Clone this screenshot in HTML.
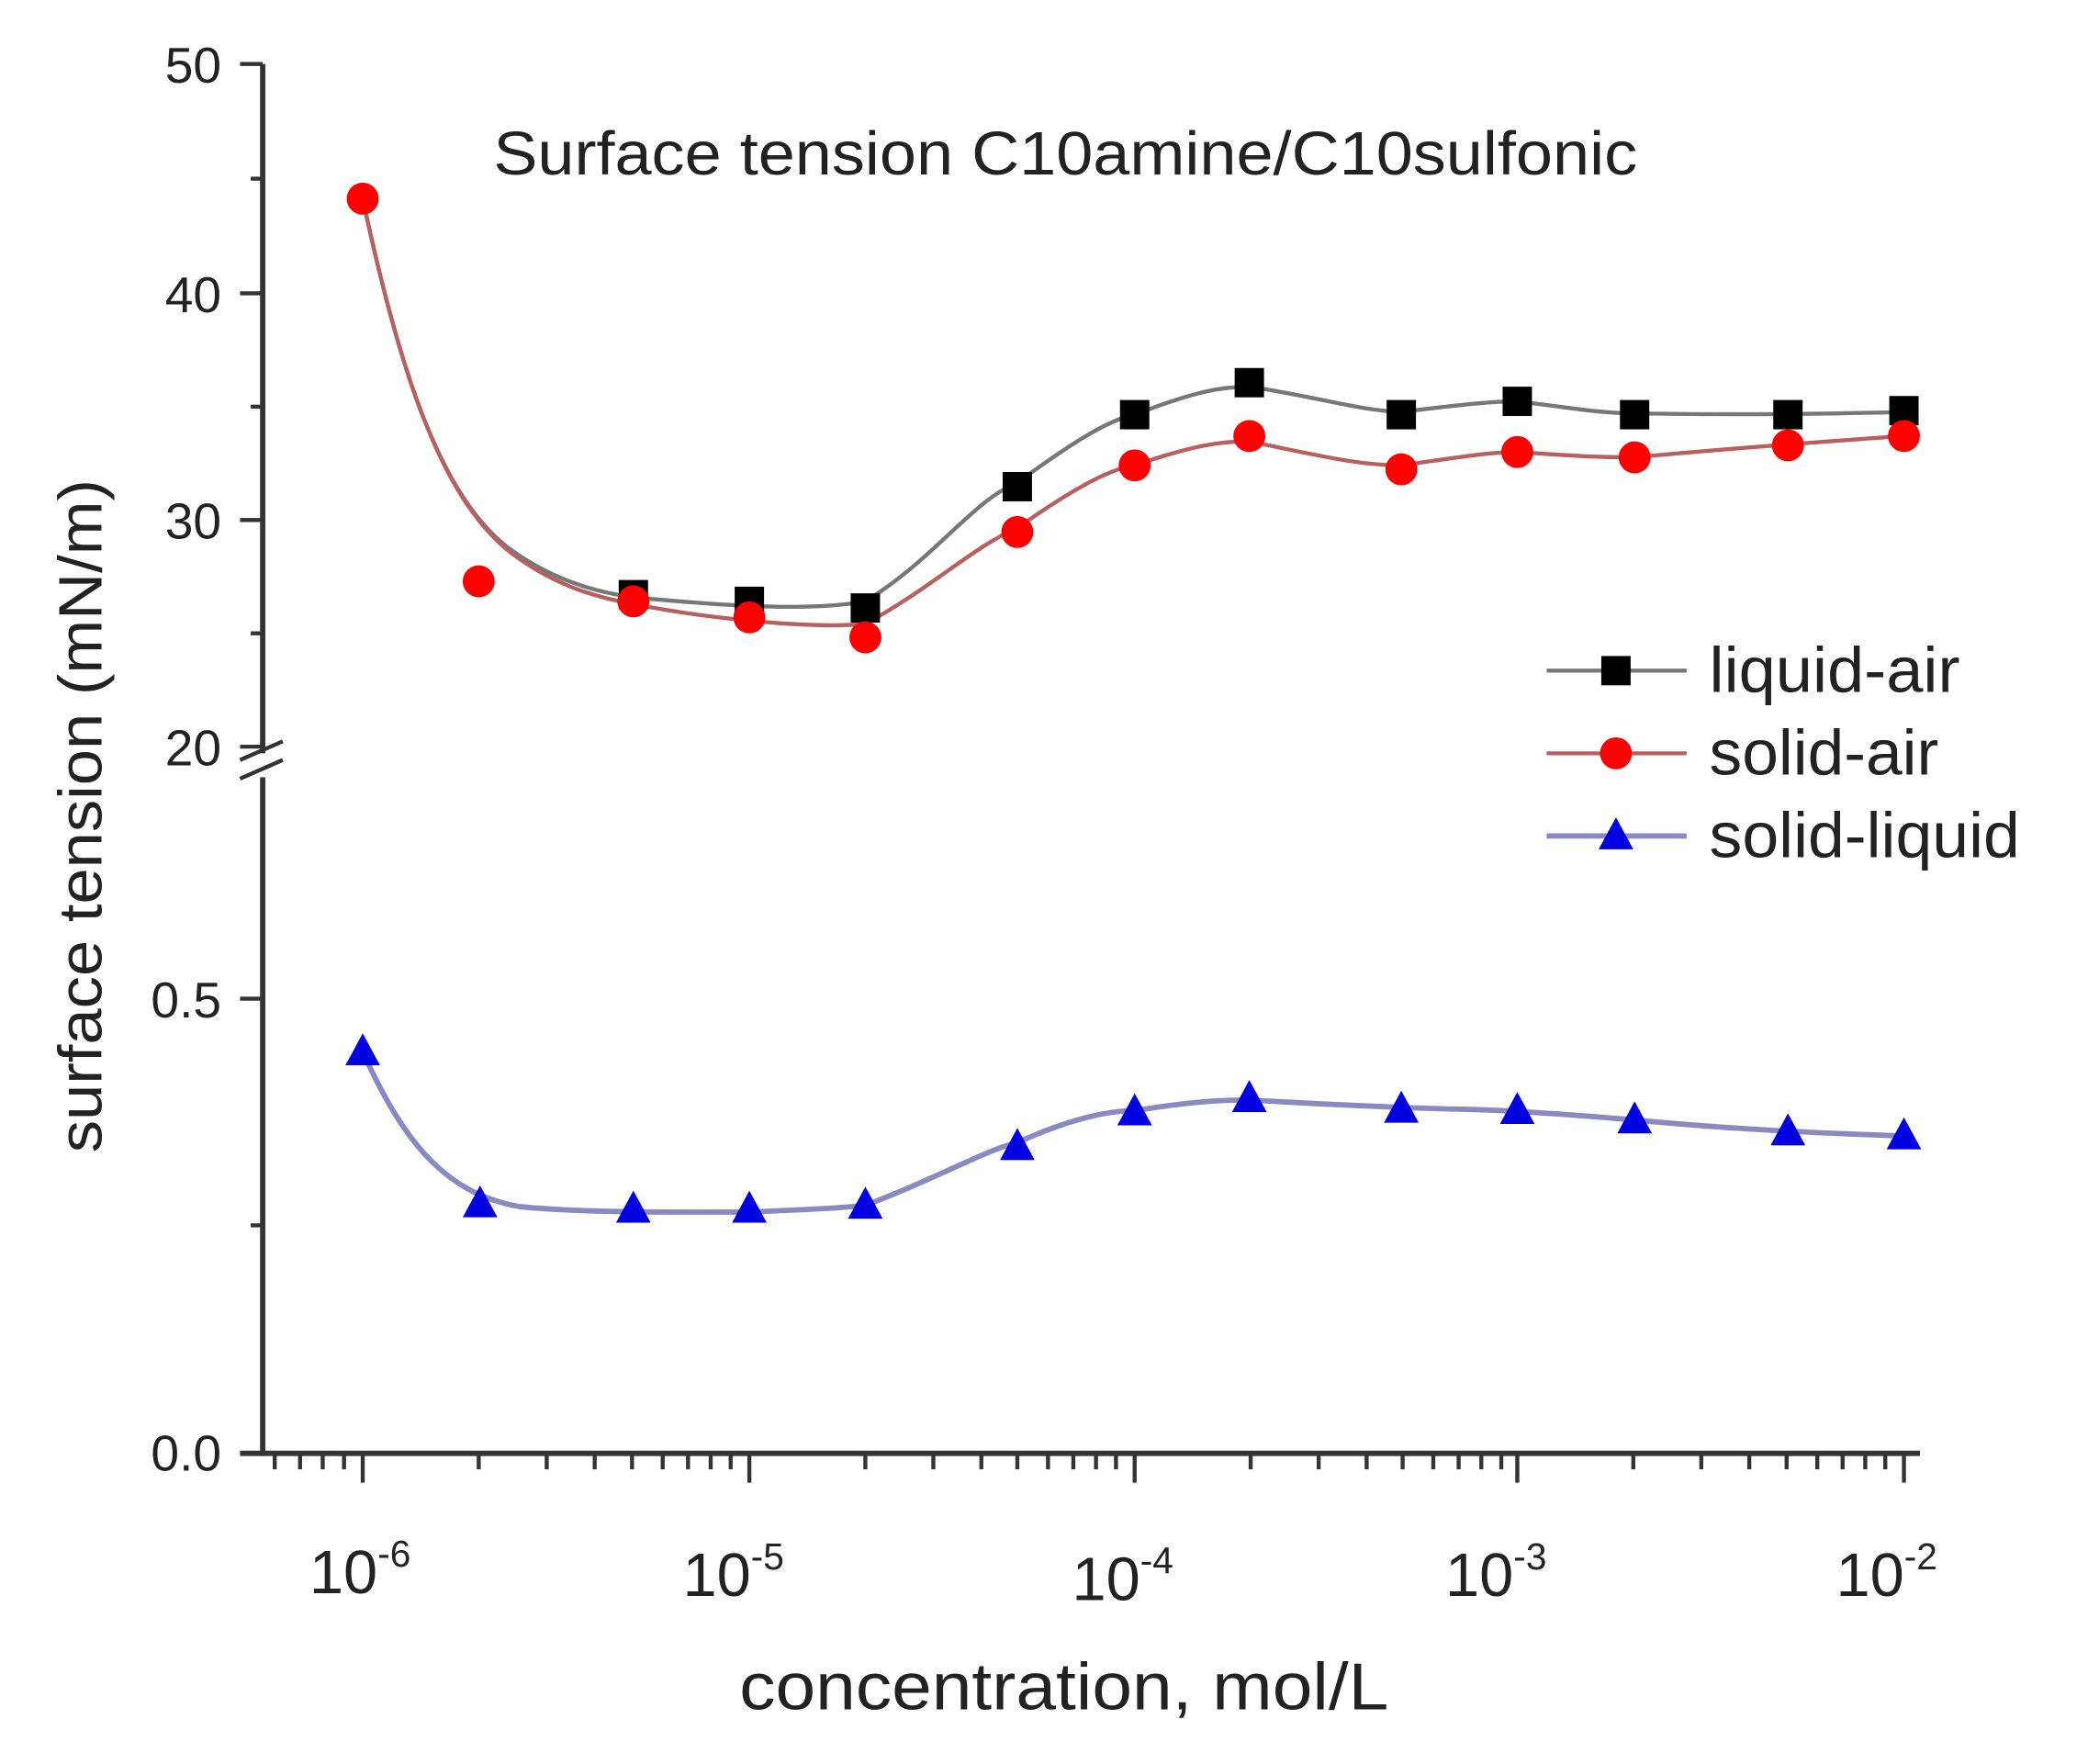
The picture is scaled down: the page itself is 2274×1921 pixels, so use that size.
<!DOCTYPE html>
<html><head><meta charset="utf-8"><style>
html,body{margin:0;padding:0;background:#fff}
svg{display:block}
text{font-family:"Liberation Sans",sans-serif;fill:#222}
</style></head><body>
<svg width="2274" height="1921" viewBox="0 0 1566 1323" xmlns="http://www.w3.org/2000/svg">
<rect width="1566" height="1323" fill="#fff"/>
<g stroke="#333" stroke-width="4" fill="none">
<line x1="197" y1="48" x2="197" y2="565"/>
<line x1="197" y1="583" x2="197" y2="1092"/>
<line x1="180" y1="1090" x2="1440" y2="1090"/>
</g>
<g stroke="#333" stroke-width="3">
<line x1="180" y1="48" x2="197" y2="48"/><line x1="180" y1="220" x2="197" y2="220"/>
<line x1="180" y1="390" x2="197" y2="390"/><line x1="180" y1="560" x2="197" y2="560"/>
<line x1="188" y1="134" x2="197" y2="134"/><line x1="188" y1="305" x2="197" y2="305"/>
<line x1="188" y1="475" x2="197" y2="475"/>
<line x1="180" y1="749" x2="197" y2="749"/><line x1="188" y1="919" x2="197" y2="919"/>
<line x1="180" y1="1090" x2="197" y2="1090"/>
<line x1="180" y1="570" x2="212" y2="556"/><line x1="180" y1="584" x2="212" y2="570"/>
</g>
<g stroke="#333" stroke-width="3">
<line x1="272" y1="1090" x2="272" y2="1112"/><line x1="562" y1="1090" x2="562" y2="1112"/>
<line x1="851" y1="1090" x2="851" y2="1112"/><line x1="1138" y1="1090" x2="1138" y2="1112"/>
<line x1="1428" y1="1090" x2="1428" y2="1112"/>
<line x1="206" y1="1090" x2="206" y2="1102"/><line x1="225" y1="1090" x2="225" y2="1102"/>
<line x1="242" y1="1090" x2="242" y2="1102"/><line x1="258" y1="1090" x2="258" y2="1102"/>
<line x1="359" y1="1090" x2="359" y2="1102"/><line x1="410" y1="1090" x2="410" y2="1102"/>
<line x1="446" y1="1090" x2="446" y2="1102"/><line x1="474" y1="1090" x2="474" y2="1102"/>
<line x1="497" y1="1090" x2="497" y2="1102"/><line x1="516" y1="1090" x2="516" y2="1102"/>
<line x1="533" y1="1090" x2="533" y2="1102"/><line x1="548" y1="1090" x2="548" y2="1102"/>
<line x1="649" y1="1090" x2="649" y2="1102"/><line x1="700" y1="1090" x2="700" y2="1102"/>
<line x1="736" y1="1090" x2="736" y2="1102"/><line x1="763" y1="1090" x2="763" y2="1102"/>
<line x1="786" y1="1090" x2="786" y2="1102"/><line x1="805" y1="1090" x2="805" y2="1102"/>
<line x1="822" y1="1090" x2="822" y2="1102"/><line x1="837" y1="1090" x2="837" y2="1102"/>
<line x1="938" y1="1090" x2="938" y2="1102"/><line x1="989" y1="1090" x2="989" y2="1102"/>
<line x1="1025" y1="1090" x2="1025" y2="1102"/><line x1="1052" y1="1090" x2="1052" y2="1102"/>
<line x1="1075" y1="1090" x2="1075" y2="1102"/><line x1="1094" y1="1090" x2="1094" y2="1102"/>
<line x1="1111" y1="1090" x2="1111" y2="1102"/><line x1="1126" y1="1090" x2="1126" y2="1102"/>
<line x1="1225" y1="1090" x2="1225" y2="1102"/><line x1="1276" y1="1090" x2="1276" y2="1102"/>
<line x1="1312" y1="1090" x2="1312" y2="1102"/><line x1="1340" y1="1090" x2="1340" y2="1102"/>
<line x1="1363" y1="1090" x2="1363" y2="1102"/><line x1="1382" y1="1090" x2="1382" y2="1102"/>
<line x1="1399" y1="1090" x2="1399" y2="1102"/><line x1="1414" y1="1090" x2="1414" y2="1102"/>
</g>
<g font-size="38" text-anchor="end" fill="#333">
<text x="166" y="62">50</text><text x="166" y="234">40</text><text x="166" y="404">30</text>
<text x="166" y="574">20</text><text x="166" y="763">0.5</text><text x="166" y="1103">0.0</text>
</g>
<g font-size="46" text-anchor="middle">
<text x="270" y="1195">10<tspan font-size="28" dy="-20">-6</tspan></text>
<text x="550" y="1197">10<tspan font-size="28" dy="-20">-5</tspan></text>
<text x="842" y="1200">10<tspan font-size="28" dy="-20">-4</tspan></text>
<text x="1122" y="1197">10<tspan font-size="28" dy="-20">-3</tspan></text>
<text x="1415" y="1197">10<tspan font-size="28" dy="-20">-2</tspan></text>
</g>
<text x="798" y="1282" font-size="50" text-anchor="middle" textLength="487" lengthAdjust="spacingAndGlyphs">concentration, mol/L</text>
<text transform="translate(76,612) rotate(-90)" font-size="46" text-anchor="middle" textLength="505" lengthAdjust="spacingAndGlyphs">surface tension (mN/m)</text>
<text x="370" y="131" font-size="46" textLength="858" lengthAdjust="spacingAndGlyphs">Surface tension C10amine/C10sulfonic</text>
<path fill="none" stroke="#777" stroke-width="3" d="M272,149 C300,280 330,370 380,410 C420,440 460,446 475,448 C520,452 600,460 649,451 C700,420 730,375 763,362 C800,335 830,315 851,311 C895,294 915,290 937,290 C990,298 1020,308 1051,309 C1100,303 1120,301 1138,301 C1180,306 1200,310 1226,310 C1290,311 1341,311 1428,309"/>
<path fill="none" stroke="#b86060" stroke-width="3" d="M272,149 C300,280 330,370 380,412 C420,444 460,450 475,453 C520,462 600,472 649,468 C700,440 730,410 763,396 C800,370 830,352 851,349 C895,334 915,331 937,331 C990,342 1020,349 1051,349 C1100,342 1120,339 1138,339 C1180,342 1200,343 1226,343 C1290,337 1341,333 1428,327"/>
<path fill="none" stroke="#8a8ac0" stroke-width="4" d="M272,789 C300,850 330,895 390,905 C440,910 520,909 562,909 C610,907 630,906 649,904 C700,885 740,862 763,857 C800,840 830,833 851,833 C895,826 915,825 937,825 C990,828 1051,831 1100,832 C1138,833 1180,836 1226,840 C1290,846 1341,849 1428,852"/>
<g fill="#000">
<rect x="464" y="435" width="22" height="22"/><rect x="551" y="440" width="22" height="22"/>
<rect x="638" y="445" width="22" height="22"/><rect x="752" y="354" width="22" height="22"/>
<rect x="840" y="300" width="22" height="22"/><rect x="926" y="276" width="22" height="22"/>
<rect x="1040" y="300" width="22" height="22"/><rect x="1127" y="290" width="22" height="22"/>
<rect x="1215" y="300" width="22" height="22"/><rect x="1330" y="300" width="22" height="22"/>
<rect x="1417" y="297" width="22" height="22"/>
</g>
<g fill="#f00">
<circle cx="272" cy="149" r="12"/><circle cx="359" cy="436" r="12"/><circle cx="475" cy="451" r="12"/>
<circle cx="562" cy="463" r="12"/><circle cx="649" cy="478" r="12"/><circle cx="763" cy="399" r="12"/>
<circle cx="851" cy="349" r="12"/><circle cx="937" cy="327" r="12"/><circle cx="1051" cy="352" r="12"/>
<circle cx="1138" cy="339" r="12"/><circle cx="1226" cy="343" r="12"/><circle cx="1341" cy="334" r="12"/>
<circle cx="1428" cy="327" r="12"/>
</g>
<g fill="#0000e0">
<polygon points="272,775 259,799 285,799"/><polygon points="360,889 347,913 373,913"/>
<polygon points="475,893 462,917 488,917"/><polygon points="562,893 549,917 575,917"/>
<polygon points="649,890 636,914 662,914"/><polygon points="763,846 750,870 776,870"/>
<polygon points="851,820 838,844 864,844"/><polygon points="937,810 924,834 950,834"/>
<polygon points="1051,818 1038,842 1064,842"/><polygon points="1138,819 1125,843 1151,843"/>
<polygon points="1226,826 1213,850 1239,850"/><polygon points="1341,835 1328,859 1354,859"/>
<polygon points="1428,838 1415,862 1441,862"/>
</g>
<line x1="1160" y1="503" x2="1265" y2="503" stroke="#777" stroke-width="3"/>
<rect x="1201" y="492" width="22" height="22" fill="#000"/>
<line x1="1160" y1="565" x2="1265" y2="565" stroke="#b86060" stroke-width="3"/>
<circle cx="1212" cy="565" r="12" fill="#f00"/>
<line x1="1160" y1="627" x2="1265" y2="627" stroke="#8a8ac0" stroke-width="4"/>
<polygon points="1212,613 1199,637 1225,637" fill="#0000e0"/>
<g font-size="48">
<text x="1282" y="519" textLength="188" lengthAdjust="spacingAndGlyphs">liquid-air</text>
<text x="1282" y="581" textLength="172" lengthAdjust="spacingAndGlyphs">solid-air</text>
<text x="1282" y="643" textLength="233" lengthAdjust="spacingAndGlyphs">solid-liquid</text>
</g>
</svg>
</body></html>
